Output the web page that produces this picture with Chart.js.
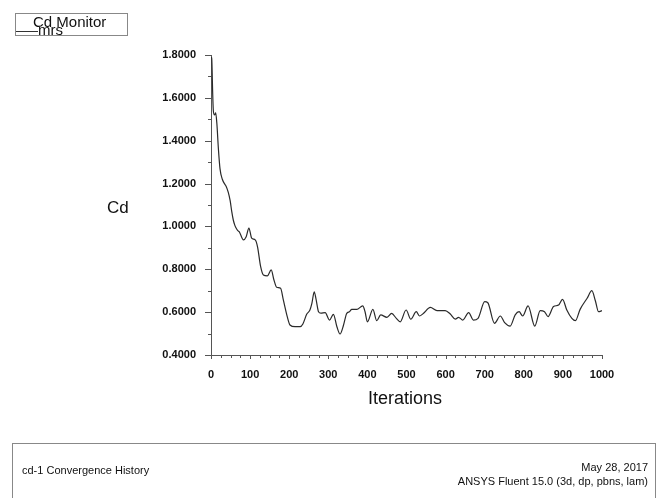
<!DOCTYPE html>
<html>
<head>
<meta charset="utf-8">
<script src="https://cdn.jsdelivr.net/npm/chart.js@4/dist/chart.umd.min.js"></script>
<style>
  html, body { margin: 0; padding: 0; background: #fff; }
  #wrap { position: relative; width: 669px; height: 498px; overflow: hidden; font-family: "Liberation Sans", Arial, sans-serif; color: #111; }
  #c { position: absolute; left: 0; top: 0; }
  .t { position: absolute; white-space: nowrap; line-height: 1; }
  #legendBox { position: absolute; left: 15px; top: 13px; width: 111px; height: 21px; border: 1px solid #888; }
  #legendLine { position: absolute; left: 16px; top: 31px; width: 22px; height: 1px; background: #333; }
  #footer { position: absolute; left: 12px; top: 443px; width: 642px; height: 80px; border: 1px solid #888; }
</style>
</head>
<body>
<div id="wrap">
  <canvas id="c" width="669" height="498"></canvas>
  <div id="legendBox"></div>
  <div id="legendLine"></div>
  <div class="t" style="left:33px; top:14px; font-size:15px;">Cd Monitor</div>
  <div class="t" style="left:38px; top:22px; font-size:15px;">mrs</div>
  <div class="t" style="left:107px; top:199px; font-size:17px;">Cd</div>
  <div class="t" style="left:368px; top:389px; font-size:18px;">Iterations</div>
  <div id="footer"></div>
  <div class="t" style="left:22px; top:465px; font-size:11px;">cd-1 Convergence History</div>
  <div class="t" style="right:21px; top:462px; font-size:11px;">May 28, 2017</div>
  <div class="t" style="right:21px; top:476px; font-size:11px;">ANSYS Fluent 15.0 (3d, dp, pbns, lam)</div>
</div>
<script>
// ---- data ----
const iterations = [1,2,3,4,6,9,12,15,19,23,29,36,38,44,49,53,57,61,66,70,72,83,90,97,104,113,119,127,134,144,154,161,168,178,185,195,202,215,228,235,245,253,258,264,269,275,281,292,303,313,322,330,339,347,354,360,373,388,394,400,414,424,434,450,462,474,484,499,511,525,533,543,561,578,599,612,625,633,644,659,671,683,700,708,725,740,751,765,778,788,797,811,828,842,853,862,876,889,899,910,923,932,944,962,974,983,991,1000];
const cdValues = [1.79,1.78,1.72,1.64,1.54,1.52,1.53,1.48,1.36,1.27,1.22,1.195,1.19,1.16,1.12,1.07,1.03,1.005,0.987,0.978,0.976,0.937,0.952,0.992,0.945,0.937,0.905,0.812,0.773,0.769,0.797,0.75,0.716,0.711,0.657,0.579,0.54,0.532,0.532,0.545,0.591,0.61,0.641,0.695,0.657,0.602,0.595,0.598,0.563,0.59,0.532,0.498,0.54,0.594,0.602,0.613,0.613,0.629,0.602,0.555,0.613,0.56,0.587,0.576,0.594,0.571,0.555,0.61,0.567,0.602,0.582,0.594,0.622,0.607,0.607,0.591,0.567,0.576,0.563,0.598,0.563,0.571,0.649,0.644,0.548,0.582,0.551,0.535,0.587,0.602,0.582,0.629,0.535,0.607,0.602,0.579,0.626,0.633,0.66,0.61,0.571,0.56,0.613,0.665,0.7,0.653,0.602,0.607];
const xRange = [0, 1000];
const yRange = [0.4, 1.8];
const xMajorStep = 100, xMinorStep = 25;
const yMajorStep = 0.2, yMinorStep = 0.1;

const points = iterations.map((it, i) => ({ x: it, y: cdValues[i] }));

const tickPlugin = {
  id: 'customTicks',
  afterDraw(chart) {
    const ctx = chart.ctx;
    const xs = chart.scales.x, ys = chart.scales.y;
    ctx.save();
    ctx.strokeStyle = '#555';
    ctx.lineWidth = 1;
    ctx.beginPath();
    ys.ticks.forEach(t => {
      const py = Math.round(ys.getPixelForValue(t.value)) + 0.5;
      const major = Math.abs(Math.round(t.value * 10) % 2) === 0;
      const len = major ? 6 : 3;
      ctx.moveTo(xs.left - len, py);
      ctx.lineTo(xs.left, py);
    });
    xs.ticks.forEach(t => {
      const px = Math.round(xs.getPixelForValue(t.value)) + 0.5;
      const major = Math.round(t.value) % xMajorStep === 0;
      const len = major ? 4 : 3;
      ctx.moveTo(px, ys.bottom);
      ctx.lineTo(px, ys.bottom + len);
    });
    ctx.stroke();
    ctx.restore();
  }
};

new Chart(document.getElementById('c'), {
  type: 'line',
  data: {
    datasets: [{
      label: 'mrs',
      data: points,
      borderColor: '#2a2a2a',
      borderWidth: 1.2,
      pointRadius: 0,
      fill: false,
      cubicInterpolationMode: 'monotone'
    }]
  },
  options: {
    responsive: false,
    animation: false,
    layout: { padding: { left: 0, top: 55, right: 67, bottom: 0 } },
    plugins: { legend: { display: false }, tooltip: { enabled: false } },
    scales: {
      x: {
        type: 'linear',
        min: xRange[0], max: xRange[1],
        afterFit(s) { s.height = 143; },
        grid: { display: true, drawOnChartArea: false, drawTicks: false, color: 'rgba(0,0,0,0)' },
        border: { display: true, color: '#555', width: 1 },
        ticks: {
          stepSize: xMinorStep,
          autoSkip: false,
          maxRotation: 0,
          padding: 13,
          color: '#111',
          font: { family: '"Liberation Sans", Arial, sans-serif', size: 11, weight: 'bold' },
          callback: v => (Math.round(v) % xMajorStep === 0 ? String(Math.round(v)) : '')
        }
      },
      y: {
        type: 'linear',
        min: yRange[0], max: yRange[1],
        afterFit(s) { s.width = 211; },
        grid: { display: true, drawOnChartArea: false, drawTicks: false, color: 'rgba(0,0,0,0)' },
        border: { display: true, color: '#555', width: 1 },
        ticks: {
          stepSize: yMinorStep,
          autoSkip: false,
          padding: 15,
          color: '#111',
          font: { family: '"Liberation Sans", Arial, sans-serif', size: 11, weight: 'bold' },
          callback: v => (Math.abs(Math.round(v * 10) % 2) === 0 ? v.toFixed(4) : '')
        }
      }
    }
  },
  plugins: [tickPlugin]
});
</script>
</body>
</html>
